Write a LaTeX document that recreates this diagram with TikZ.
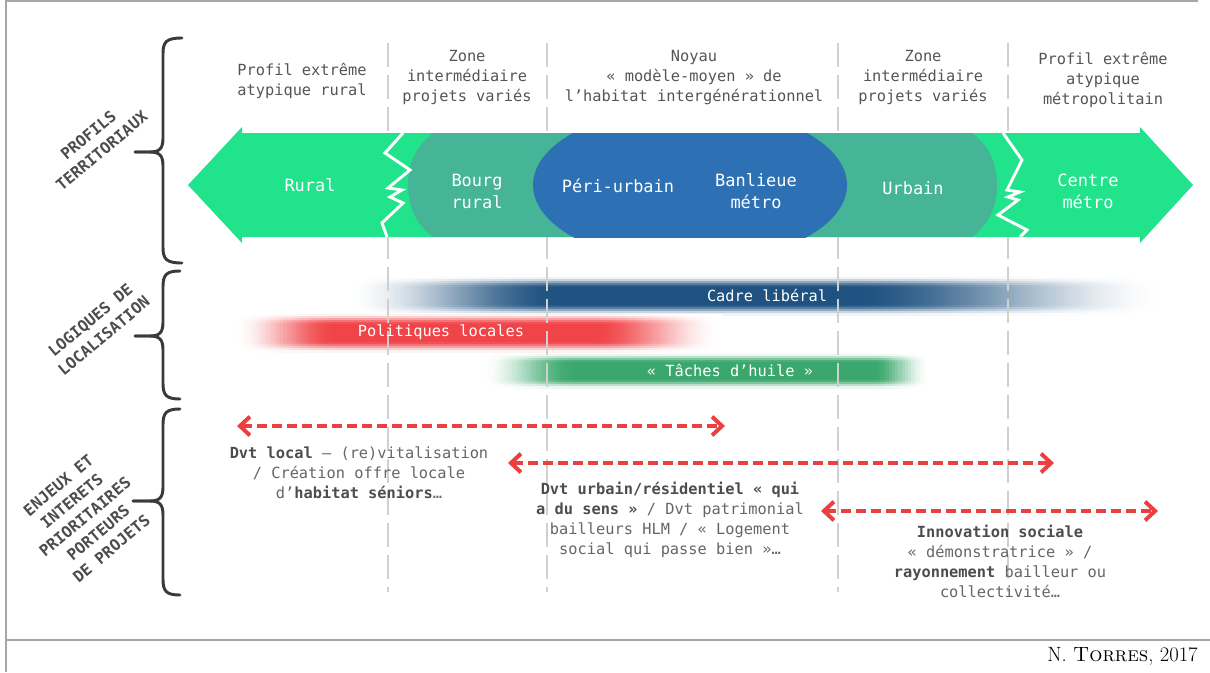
\documentclass[tikz,border=0pt]{standalone}
\usepackage{fontspec}
\newfontfamily\mono{DejaVu Sans Mono}
\usetikzlibrary{arrows.meta}

\definecolor{bandgreen}{RGB}{32,227,140}
\definecolor{bandteal}{RGB}{70,180,150}
\definecolor{bandblue}{RGB}{46,112,180}
\definecolor{hazeblue}{RGB}{31,82,128}
\definecolor{hazered}{RGB}{240,68,72}
\definecolor{hazegreen}{RGB}{58,168,108}
\definecolor{arrowred}{RGB}{236,64,64}
\definecolor{headgray}{RGB}{85,85,85}
\definecolor{bodygray}{RGB}{102,102,102}
\definecolor{boldgray}{RGB}{77,77,77}
\definecolor{bracegray}{RGB}{58,58,58}
\definecolor{framegray}{RGB}{166,166,166}
\definecolor{guidegray}{RGB}{208,208,208}
\colorlet{stripcol}{white}
\colorlet{cellcol}{white}

% soft bar drawn as a grid of small flat cells:
% colour, x fade-in start, x full start, x full end, x fade-out end,
% y centre, number of 2px rows on each side, rows of the solid core
\newcommand{\hazebar}[8]{%
  \pgfmathtruncatemacro{\hML}{(#3-#2)/3}%
  \pgfmathtruncatemacro{\hMR}{(#5-#4)/3}%
  \pgfmathsetmacro{\hwL}{(#3-#2)/\hML}%
  \pgfmathsetmacro{\hwR}{(#5-#4)/\hMR}%
  \foreach \s in {-#7,...,#7}{%
    \pgfmathsetmacro{\hz}{max(0,min(1,(abs(\s)-#8)/(#7-#8)))}%
    \pgfmathsetmacro{\hp}{50*(1+cos(180*\hz))}%
    \pgfmathsetmacro{\hyy}{#6+2*\s}%
    \ifdim\hp pt>0.5pt
      \colorlet{stripcol}{#1!\hp!white}%
      \fill[stripcol] (#3,{\hyy-1}) rectangle (#4,{\hyy+1.8});
      \foreach \j in {1,...,\hML}{%
        \pgfmathsetmacro{\ht}{(\j-0.5)/\hML}%
        \pgfmathsetmacro{\hq}{\hp*\ht*\ht*(3-2*\ht)}%
        \colorlet{cellcol}{#1!\hq!white}%
        \fill[cellcol] ({#2+(\j-1)*\hwL},{\hyy-1}) rectangle ({#2+\j*\hwL+1},{\hyy+1.8});
      }%
      \foreach \j in {1,...,\hMR}{%
        \pgfmathsetmacro{\ht}{1-(\j-0.5)/\hMR}%
        \pgfmathsetmacro{\hq}{\hp*\ht*\ht*(3-2*\ht)}%
        \colorlet{cellcol}{#1!\hq!white}%
        \fill[cellcol] ({#4+(\j-1)*\hwR-1},{\hyy-1}) rectangle ({#4+\j*\hwR},{\hyy+1.8});
      }%
    \fi
  }}

% curly bracket: x of the ends, x of the stem, x of the tip, y top, y tip, y bottom
\newcommand{\curly}[6]{%
  \draw[curlybrace] (#1,#4) .. controls ({#2+3},#4) and (#2,{#4+4}) .. (#2,{#4+16})
     -- (#2,{#5-14}) .. controls (#2,{#5-4}) and ({#2-3},#5) .. ({#2-13},#5) -- (#3,#5);
  \draw[curlybrace] (#1,#6) .. controls ({#2+3},#6) and (#2,{#6-4}) .. (#2,{#6-16})
     -- (#2,{#5+14}) .. controls (#2,{#5+4}) and ({#2-3},#5) .. ({#2-13},#5) -- (#3,#5);}

\tikzset{
  curlybrace/.style={draw=bracegray, line width=2.2pt, line cap=round, line join=round},
  guide/.style={draw=guidegray, line width=2pt, dash pattern=on 18pt off 6pt},
  zigzag/.style={draw=white, line width=2.2pt, line join=miter},
  headtext/.style={align=center, text=headgray, inner sep=0pt,
    font=\mono\fontsize{11.5}{15}\selectfont},
  bandtext/.style={align=center, text=white, inner sep=0pt,
    font=\mono\fontsize{12.7}{16.5}\selectfont},
  bartext/.style={text=white, inner sep=0pt, font=\mono\fontsize{11.5}{14}\selectfont},
  sidelabel/.style={align=center, text=boldgray, inner sep=0pt, rotate=40,
    font=\mono\bfseries\fontsize{11.8}{15.5}\selectfont},
  bodytext/.style={align=center, text=bodygray, inner sep=0pt,
    font=\mono\fontsize{11.5}{15}\selectfont},
  spanarrow/.style={draw=arrowred, line width=3pt, dash pattern=on 7.5pt off 3.75pt,
    arrows={Straight Barb[length=7.5pt,width=14pt]-Straight Barb[length=7.5pt,width=14pt]}}
}
\newcommand{\bd}[1]{{\color{boldgray}\bfseries #1}}

\begin{document}
\begin{tikzpicture}[x=0.75pt,y=-0.75pt]
\useasboundingbox (0,0) rectangle (1210,672);
\fill[white] (0,0) rectangle (1210,672);

% frame of the figure and the caption row
\draw[framegray, line width=1.6pt] (6,0) -- (6,672);
\draw[framegray, line width=1.6pt] (6,1) -- (1198,1);
\draw[framegray, line width=1.6pt] (6,640) -- (1210,640);

% localisation logics as blurred bands
\hazebar{hazeblue}{345}{560}{850}{1168}{296}{10}{4}
\hazebar{hazered}{235}{335}{595}{722}{333}{10}{4}
\hazebar{hazegreen}{482}{575}{875}{930}{371}{9}{4}

% dashed zone separators
\foreach \gx in {388,547,838,1008}{
  \draw[guide] (\gx,43) -- (\gx,592);
}

% territorial band: double arrow, intermediate zone, core ellipse
\fill[bandgreen] (188,185) -- (242,127) -- (242,133) -- (1140,133) -- (1140,127)
  -- (1193,185) -- (1140,243) -- (1140,237) -- (242,237) -- (242,243) -- cycle;
\begin{scope}
  \clip (242,133) rectangle (1140,237);
  \fill[bandteal] (433,133) .. controls (413,148) and (408,168) .. (408,185)
    .. controls (408,202) and (413,222) .. (433,237) -- (972,237)
    .. controls (992,222) and (997,202) .. (997,185)
    .. controls (997,168) and (992,148) .. (972,133) -- cycle;
  \fill[bandblue] (690,185) ellipse [x radius=157, y radius=78];
\end{scope}
\draw[zigzag] (403,133) -- (385,153) -- (410,170) -- (388,188) -- (402,190)
  -- (390,197) -- (403,203) -- (382,223) -- (387,237);
\draw[zigzag] (1003,133) -- (1022,160) -- (1007,190) -- (1020,192) -- (1008,197)
  -- (1018,200) -- (998,215) -- (1027,230) -- (1020,237);

\node[bandtext] (rural) at (310,185) {Rural};
\node[bandtext] (bourg) at (477,191) {Bourg\\rural};
\node[bandtext] (peri) at (618,186) {Péri-urbain};
\node[bandtext] (banlieue) at (756,191) {Banlieue\\métro};
\node[bandtext] (urbain) at (913,188) {Urbain};
\node[bandtext] (centre) at (1088,191) {Centre\\métro};

% zone headings
\node[headtext] (h1) at (302,81) {Profil extrême\\atypique rural};
\node[headtext] (h2) at (467,78) {Zone\\intermédiaire\\projets variés};
\node[headtext] (h3) at (694,78) {Noyau\\« modèle-moyen » de\\l’habitat intergénérationnel};
\node[headtext] (h4) at (923,78) {Zone\\intermédiaire\\projets variés};
\node[headtext] (h5) at (1103,80) {Profil extrême\\atypique\\métropolitain};

% bar labels
\node[bartext] (cadre) at (767,295) {Cadre libéral};
\node[bartext] (politiques) at (441,332) {Politiques locales};
\node[bartext] (taches) at (730,370) {« Tâches d’huile »};

% brackets and their rotated titles
\curly{182}{163}{135}{38}{152}{263}
\curly{180}{163}{135}{271}{336}{399}
\curly{180}{163}{133}{409}{501}{595}
\node[sidelabel] (lab1) at (95,143) {PROFILS\\TERRITORIAUX};
\node[sidelabel] (lab2) at (97,328) {LOGIQUES DE\\LOCALISATION};
\node[sidelabel] (lab3) at (85,517) {ENJEUX ET\\INTERETS\\PRIORITAIRES\\PORTEURS\\DE PROJETS};

% ranges of the project stakes
\coordinate (a1l) at (237,426); \coordinate (a1r) at (725,426);
\coordinate (a2l) at (508,463); \coordinate (a2r) at (1054,463);
\coordinate (a3l) at (821,511); \coordinate (a3r) at (1158,511);
\draw[spanarrow] (a1l) -- (a1r);
\draw[spanarrow] (a2l) -- (a2r);
\draw[spanarrow] (a3l) -- (a3r);

\node[bodytext] (local) at (359,473)
  {\bd{Dvt local} – (re)vitalisation\\/ Création offre locale\\d’\bd{habitat séniors}…};
\node[bodytext] (urbainres) at (670,520)
  {\bd{Dvt urbain/résidentiel « qui}\\\bd{a du sens »} / Dvt patrimonial\\bailleurs HLM / « Logement\\social qui passe bien »…};
\node[bodytext] (innovation) at (1000,561)
  {\bd{Innovation sociale}\\« démonstratrice » /\\\bd{rayonnement} bailleur ou\\collectivité…};

% caption
\node[anchor=east, inner sep=0pt, font=\fontsize{15.5}{18}\selectfont] (credit) at (1198,656)
  {N.~\textsc{Torres}, 2017};
\end{tikzpicture}
\end{document}
